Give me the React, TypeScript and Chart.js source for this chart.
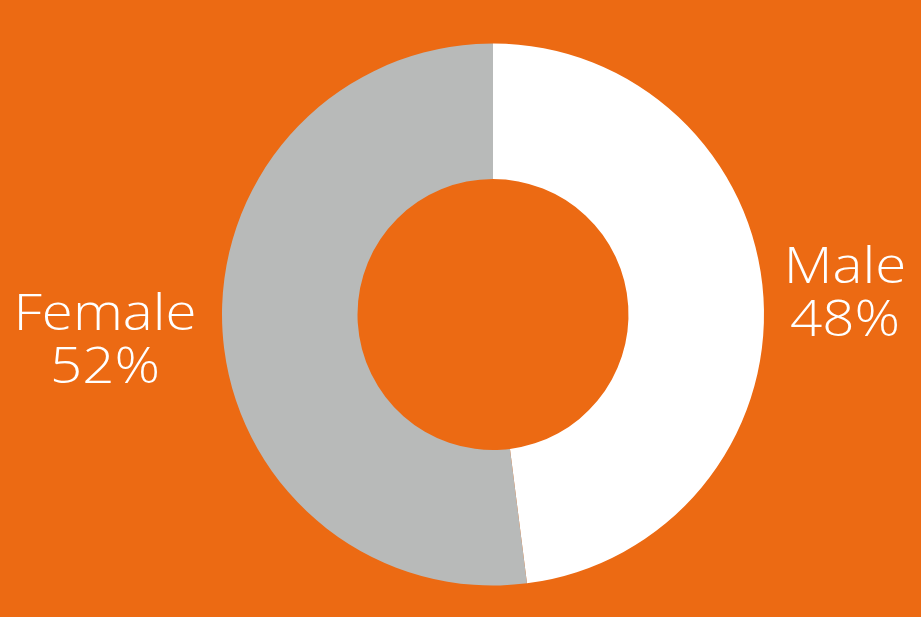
import React, { useEffect, useRef } from "react";
import { Chart, registerables } from "chart.js";

Chart.register(...registerables);

const categories = ["Male", "Female"];
const shares = [48, 52];
const sliceColors = ["#FFFFFF", "#B8BAB9"];
const pageBackground = "#EC6A13";

const labelPlugin = {
  id: "sideLabels",
  afterDraw(chart: any) {
    const meta = chart.getDatasetMeta(0);
    const arc = meta.data[0];
    if (!arc) return;
    const { x, y, outerRadius } = arc.getProps(["x", "y", "outerRadius"], true);
    const ctx = chart.ctx;
    const sx = 1.13;
    const lineGap = 53;
    const draw = (text: string, cx: number, by: number) => {
      ctx.save();
      ctx.translate(cx, by);
      ctx.scale(sx, 1);
      ctx.fillText(text, 0, 0);
      ctx.restore();
    };
    ctx.save();
    ctx.fillStyle = "#FFFFFF";
    ctx.font = '300 50px "Open Sans"';
    ctx.textAlign = "center";
    ctx.textBaseline = "alphabetic";
    // Male on the right
    const mx = x + outerRadius + 81;
    draw(categories[0], mx, y - 32);
    draw(shares[0] + "%", mx, y - 32 + lineGap);
    // Female on the left
    const fx = x - outerRadius - 117;
    draw(categories[1], fx, y + 15);
    draw(shares[1] + "%", fx, y + 15 + lineGap);
    ctx.restore();
  },
};

export default function App() {
  const ref = useRef<HTMLCanvasElement>(null);
  useEffect(() => {
    document.body.style.margin = "0";
    document.body.style.background = pageBackground;
    const chart = new Chart(ref.current!, {
      type: "doughnut",
      data: {
        labels: categories,
        datasets: [
          {
            data: shares,
            backgroundColor: sliceColors,
            borderWidth: 0,
          },
        ],
      },
      options: {
        responsive: false,
        animation: false,
        cutout: "50%",
        layout: { padding: { left: 222, right: 157, top: 43, bottom: 31 } },
        plugins: {
          legend: { display: false },
          tooltip: { enabled: false },
        },
      },
      plugins: [labelPlugin],
    });
    return () => chart.destroy();
  }, []);
  return (
    <div style={{ width: 921, height: 617, background: pageBackground }}>
      <canvas ref={ref} width={921} height={617} style={{ display: "block" }} />
    </div>
  );
}
